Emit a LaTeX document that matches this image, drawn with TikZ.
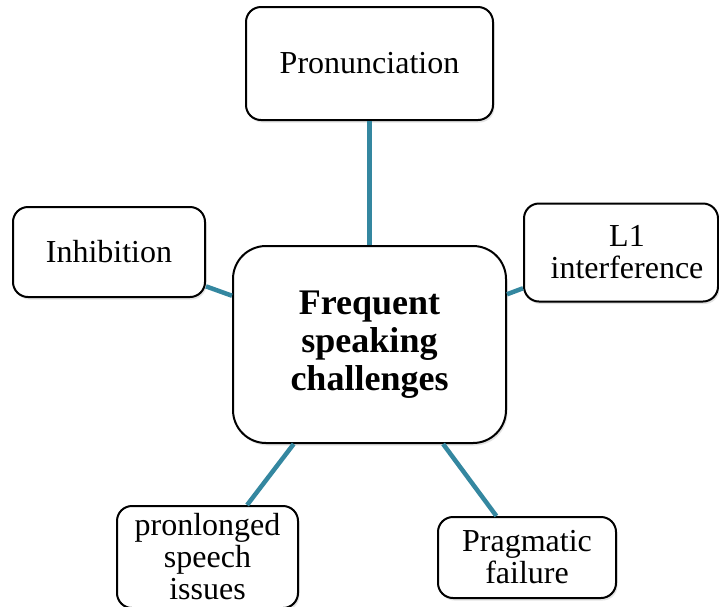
\documentclass[tikz,border=0pt]{standalone}
\usepackage{fontspec}
\setmainfont{Liberation Serif}
\usetikzlibrary{shadows}
\definecolor{linkteal}{RGB}{52,135,160}
\tikzset{
  box/.style={draw=black, line width=2pt, fill=white, rounded corners=15pt,
    inner sep=0pt, align=center,
    font=\fontsize{32pt}{32pt}\selectfont,
    drop shadow={opacity=0.22, shadow xshift=1.5pt, shadow yshift=-2.5pt}},
  hub/.style={box, rounded corners=33pt, font=\fontsize{36pt}{38pt}\selectfont\bfseries},
  link/.style={draw=linkteal, line width=4.5pt}
}
\begin{document}
\begin{tikzpicture}[x=1pt, y=-1pt]
\useasboundingbox (0,0) rectangle (719,606);
\clip (0,0) rectangle (719,606);
\node[hub, minimum width=273pt, minimum height=197pt] (c) at (369.5,344.5) {Frequent\\speaking\\challenges};
\node[box, minimum width=247pt, minimum height=113pt] (pron) at (369.5,63.5) {Pronunciation};
\node[box, minimum width=192pt, minimum height=90pt] (inh) at (109,252) {Inhibition};
\node[box, minimum width=194pt, minimum height=98pt] (l1) at (621,252.5) {\hspace*{12pt}L1\\\hspace*{12pt}interference};
\node[box, minimum width=181pt, minimum height=102pt] (pl) at (207.5,557) {pronlonged\\speech\\issues};
\node[box, minimum width=178pt, minimum height=81pt] (pf) at (527,557.5) {Pragmatic\\failure};
\draw[link] (c) -- (pron);
\draw[link] (c) -- (inh);
\draw[link] (c) -- (l1);
\draw[link] (c) -- (pl);
\draw[link] (c) -- (pf);
\end{tikzpicture}
\end{document}
